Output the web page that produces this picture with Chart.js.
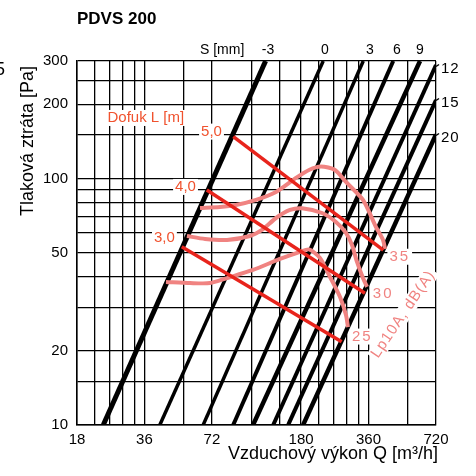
<!DOCTYPE html>
<html>
<head>
<meta charset="utf-8">
<script src="https://cdn.jsdelivr.net/npm/chart.js@4"></script>
<style>
  html, body { margin: 0; padding: 0; background: #fff; }
</style>
</head>
<body>
<canvas id="chart" width="476" height="476"></canvas>
<script>
// grid / tick values (Q in m3/h, dp in Pa)
const qGrid = [18, 21.6, 25.2, 28.8, 32.4, 36, 54, 72, 108, 144, 180, 216, 252, 288, 324, 360, 540, 720];
const qLabels = [18, 36, 72, 180, 360, 720];
const pGrid = [10, 15, 20, 30, 40, 50, 60, 70, 80, 90, 100, 150, 200, 250, 300];
const pLabels = [10, 20, 50, 100, 200, 300];

// damper setting lines S [mm], end points [Q, dp]
const sNames = ['-3', '0', '3', '6', '9', '12', '15', '20'];
const sLines = [
  [[23.6, 10], [125, 300]],
  [[42.2, 10], [226, 300]],
  [[65.9, 10], [341, 300]],
  [[89.7, 10], [464, 300]],
  [[110, 10], [611, 300]],
  [[135.3, 10], [720, 289]],
  [[157.8, 10], [720, 208]],
  [[184, 10], [720, 151]]
];

// throw L [m]
const throwNames = ['5,0', '4,0', '3,0'];
const throwLines = [
  [[89.7, 147.8], [418.9, 51.2]],
  [[68.3, 89.8], [347, 34.2]],
  [[52.8, 52.8], [273, 21.7]]
];

// sound level Lp10A dB(A)
const noiseNames = ['35', '30', '25'];
const noise35 = [[63.7, 75.9], [78.2, 76.6], [92.2, 78.0], [113.3, 81.8], [139.1, 88.1], [170.8, 100.5], [195.3, 108.3],
  [220.9, 111.9], [255, 108.3], [285.5, 96.8], [340, 81.8], [388.6, 63.5], [417.7, 56.3], [426.4, 51.7]];
const noise30 = [[55.7, 58.4], [67.1, 56.8], [84.1, 56.3], [106.5, 58.4], [120.5, 61.8], [139.1, 69.1], [160.6, 74.5],
  [181.7, 75.7], [223.2, 72.4], [257.6, 66.6], [285.5, 60.1], [303.7, 53.7], [319.8, 45.8], [340, 39.4], [354.3, 36.3]];
const noise25 = [[44.9, 38.0], [57.5, 37.6], [70.6, 37.6], [84.1, 39.4], [109.8, 42.5], [144.9, 47.1], [178, 50.3],
  [195.3, 51.5], [218.5, 47.6], [242.3, 39.8], [268.6, 33.0], [285.5, 27.9], [291.4, 24.9]];

const FONT = '"Liberation Sans", Arial, sans-serif';
const RED = '#e8241c';
const RED_TEXT = '#f0522e';
const PINK = '#f08381';
const sWidths = [5, 3.5, 3.5, 4, 4.5, 4, 4, 4.5];

const toPts = arr => arr.map(p => ({ x: p[0], y: p[1] }));

const datasets = [];
sLines.forEach((l, i) => datasets.push({
  label: 'S ' + sNames[i], data: toPts(l), borderColor: '#000', borderWidth: sWidths[i],
  pointRadius: 0, order: 3, borderCapStyle: 'butt'
}));
[noise35, noise30, noise25].forEach((c, i) => datasets.push({
  label: 'Lp ' + noiseNames[i], data: toPts(c), borderColor: PINK, borderWidth: 4,
  pointRadius: 0, tension: 0.25, order: 2
}));
throwLines.forEach((l, i) => datasets.push({
  label: 'L ' + throwNames[i], data: toPts(l), borderColor: RED, borderWidth: 3.5,
  pointRadius: 0, order: 1
}));

function boxText(ctx, txt, x, y, color) {
  const w = ctx.measureText(txt).width;
  ctx.fillStyle = '#fff';
  ctx.fillRect(x - w / 2 - 2, y - 8, w + 4, 16);
  ctx.fillStyle = color;
  ctx.fillText(txt, x, y);
}

const textPlugin = {
  id: 'texts',
  afterDraw(chart) {
    const ctx = chart.ctx;
    const xs = chart.scales.x, ys = chart.scales.y;
    const a = chart.chartArea;
    const px = (q, p) => [xs.getPixelForValue(q), ys.getPixelForValue(p)];
    ctx.save();
    ctx.fillStyle = '#000';
    ctx.textBaseline = 'alphabetic';

    ctx.font = 'bold 17px ' + FONT;
    ctx.textAlign = 'left';
    ctx.fillText('PDVS 200', a.left, 24);

    ctx.font = '18px ' + FONT;
    ctx.save();
    ctx.translate(33, 141);
    ctx.rotate(-Math.PI / 2);
    ctx.textAlign = 'center';
    ctx.fillText('Tlaková ztráta [Pa]', 0, 0);
    ctx.restore();
    ctx.textAlign = 'right';
    ctx.fillText('Vzduchový výkon Q [m³/h]', a.right + 2, 459);
    ctx.textAlign = 'right';
    ctx.fillText('5', 5, 75);

    // S labels on top
    ctx.font = '14px ' + FONT;
    ctx.textAlign = 'left';
    ctx.fillText('S [mm]', 200, 53.5);
    ctx.textAlign = 'center';
    const topX = [268, 325, 370, 397, 420];
    for (let i = 0; i < 5; i++) ctx.fillText(sNames[i], topX[i], 53.5);

    // S labels on right
    ctx.font = '15px ' + FONT;
    ctx.textAlign = 'left';
    ctx.letterSpacing = '1px';
    ctx.lineWidth = 1.5;
    ctx.strokeStyle = '#000';
    const rightY = [66.5, 100.5, 135.5];
    for (let i = 0; i < 3; i++) {
      ctx.fillText(sNames[5 + i], a.right + 5, rightY[i] + 6);
      ctx.beginPath();
      ctx.moveTo(a.right, rightY[i]);
      ctx.lineTo(a.right + 3, rightY[i] - 2);
      ctx.stroke();
    }
    ctx.letterSpacing = '0px';

    // throw labels
    ctx.textBaseline = 'middle';
    ctx.textAlign = 'center';
    ctx.font = '15px ' + FONT;
    let p = px(36.5, 176.1);
    boxText(ctx, 'Dofuk L [m]', p[0], p[1], RED_TEXT);
    const throwAt = [[71.7, 155], [54.9, 92.4], [44.2, 57.5]];
    throwAt.forEach((t, i) => { p = px(t[0], t[1]); boxText(ctx, throwNames[i], p[0], p[1], RED_TEXT); });

    // noise labels
    ctx.letterSpacing = '2px';
    const noiseAt = [[491, 48.1], [414, 33.9], [334, 22.8]];
    noiseAt.forEach((t, i) => { p = px(t[0], t[1]); boxText(ctx, noiseNames[i], p[0] + 1, p[1], PINK); });
    ctx.letterSpacing = '1px';
    p = px(514, 28.1);
    ctx.save();
    ctx.translate(p[0], p[1]);
    ctx.rotate(-56 * Math.PI / 180);
    boxText(ctx, 'Lp10A, dB(A)', 0, 0, PINK);
    ctx.restore();
    ctx.restore();
  }
};

new Chart(document.getElementById('chart'), {
  type: 'line',
  data: { datasets },
  options: {
    responsive: false,
    animation: false,
    devicePixelRatio: 1,
    layout: { padding: { top: 61, right: 40, left: 0, bottom: 0 } },
    plugins: { legend: { display: false }, tooltip: { enabled: false } },
    scales: {
      x: {
        type: 'logarithmic', min: 18, max: 720,
        afterBuildTicks: s => { s.ticks = qGrid.map(v => ({ value: v })); },
        afterFit: s => { s.height = 51.3; },
        ticks: {
          autoSkip: false, maxRotation: 0, padding: 6, color: '#000',
          font: { family: FONT, size: 15 },
          callback: v => qLabels.includes(v) ? String(v) : ''
        },
        grid: { color: '#000', lineWidth: 1.3, drawTicks: false },
        border: { color: '#000', width: 1.5 }
      },
      y: {
        type: 'logarithmic', min: 10, max: 300,
        afterBuildTicks: s => { s.ticks = pGrid.map(v => ({ value: v })); },
        afterFit: s => { s.width = 77; },
        ticks: {
          autoSkip: false, padding: 9, color: '#000',
          font: { family: FONT, size: 15 },
          callback: v => pLabels.includes(v) ? String(v) : ''
        },
        grid: { color: '#000', lineWidth: 1.3, drawTicks: false },
        border: { color: '#000', width: 1.5 }
      }
    }
  },
  plugins: [textPlugin]
});
</script>
</body>
</html>
